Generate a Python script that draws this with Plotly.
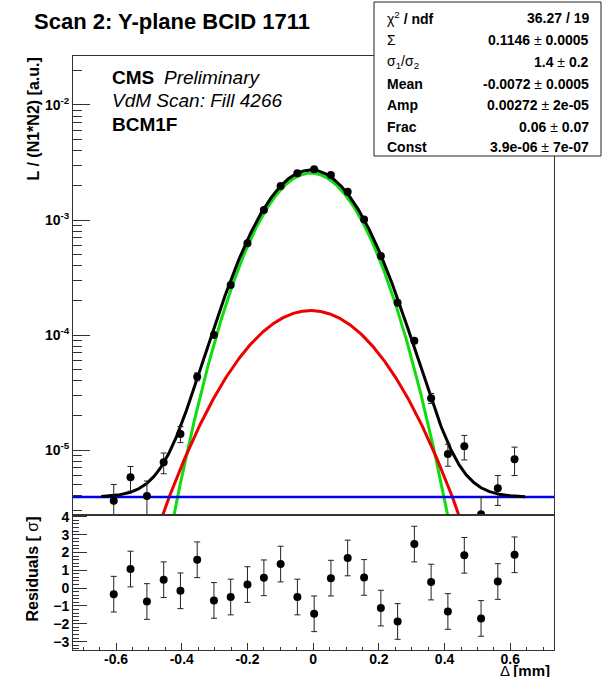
import numpy as np
import plotly.graph_objects as go

# ---------------- data ----------------
delta_mm = [-0.607, -0.556, -0.506, -0.455, -0.404, -0.353, -0.302, -0.251,
            -0.200, -0.150, -0.099, -0.048, 0.003, 0.054, 0.105, 0.155,
            0.206, 0.257, 0.308, 0.359, 0.410, 0.460, 0.511, 0.562, 0.613]
lumi = [3.62e-6, 5.79e-6, 3.98e-6, 7.82e-6, 1.38e-5, 4.34e-5, 1.00e-4, 2.72e-4,
        6.28e-4, 1.22e-3, 1.98e-3, 2.55e-3, 2.76e-3, 2.46e-3, 1.76e-3, 1.01e-3,
        4.86e-4, 1.91e-4, 8.9e-5, 2.82e-5, 9.23e-6, 1.08e-5, 2.76e-6, 4.65e-6, 8.3e-6]
lumi_err = [1.4e-6, 1.4e-6, 1.4e-6, 1.6e-6, 2.2e-6, 3.5e-6, 5e-6, 8e-6,
            1.2e-5, 1.6e-5, 1.9e-5, 2.1e-5, 2.2e-5, 2.1e-5, 1.8e-5, 1.4e-5,
            9e-6, 6e-6, 4e-6, 2.8e-6, 2.0e-6, 2.6e-6, 1.15e-6, 1.35e-6, 2.3e-6]
residuals = [-0.34, 1.07, -0.75, 0.47, -0.15, 1.59, -0.69, -0.50, 0.20, 0.58,
             1.35, -0.50, -1.44, 0.56, 1.69, 0.60, -1.12, -1.87, 2.47, 0.34,
             -1.31, 1.84, -1.70, 0.37, 1.87]
residual_err = [1.0, 1.0, 1.0, 1.0, 1.0, 1.0, 1.0, 1.0, 1.0, 1.0, 1.0, 1.0, 1.0,
                1.0, 1.0, 1.0, 1.0, 1.0, 1.0, 1.0, 1.0, 1.0, 1.0, 1.0, 1.0]

# fit parameters (stat box)
fit_capsigma = 0.1146
fit_sigma_ratio = 1.4
fit_mean = -0.0072
fit_amp = 0.00272
fit_frac = 0.06
fit_const = 3.9e-6
fit_range = (-0.645, 0.645)

stats_labels = ["χ<sup>2</sup><b> / ndf</b>", "Σ", "σ<sub>1</sub>/σ<sub>2</sub>",
                "<b>Mean</b>", "<b>Amp</b>", "<b>Frac</b>", "<b>Const</b>"]
stats_values = ["<b>36.27 / 19</b>", "<b>0.1146</b> ± <b>0.0005</b>", "<b>1.4</b> ± <b>0.2</b>",
                "<b>-0.0072</b> ± <b>0.0005</b>", "<b>0.00272</b> ± <b>2e-05</b>",
                "<b>0.06</b> ± <b>0.07</b>", "<b>3.9e-06</b> ± <b>7e-07</b>"]

x_ticks = [-0.6, -0.4, -0.2, 0, 0.2, 0.4, 0.6]
x_ticktext = ["-0.6", "-0.4", "-0.2", "0", "0.2", "0.4", "0.6"]
log_ticks = [1e-5, 1e-4, 1e-3, 1e-2]
log_ticktext = ["10<sup>-5</sup>", "10<sup>-4</sup>", "10<sup>-3</sup>", "10<sup>-2</sup>"]
res_ticks = [-3, -2, -1, 0, 1, 2, 3, 4]

# ---------------- geometry ----------------
W, H = 605, 677
ML, MR, MT, MB = 73, 51, 56, 27
PW = W - ML - MR
PH = H - MT - MB
SPLIT = 515  # pixel row of panel border
X_RANGE = [-0.731, 0.733]
Y_LOG_RANGE = [-5.565, -1.574]
RES_RANGE = [-3.47, 4.1]


def px_x(p):
    return (p - ML) / PW


def px_y(p):
    return (H - MB - p) / PH


split_dom = px_y(SPLIT)
FONT = "Liberation Sans, Arial, sans-serif"

# ---------------- fit curves ----------------
sigma_narrow = fit_capsigma * (fit_frac / fit_sigma_ratio + 1 - fit_frac)
sigma_wide = fit_sigma_ratio * sigma_narrow
xf = np.linspace(fit_range[0], fit_range[1], 800)
g_narrow = fit_amp * (1 - fit_frac) * np.exp(-(xf - fit_mean) ** 2 / (2 * sigma_narrow ** 2))
g_wide = fit_amp * fit_frac * np.exp(-(xf - fit_mean) ** 2 / (2 * sigma_wide ** 2))
g_total = g_narrow + g_wide + fit_const

fig = go.Figure()
fig.add_trace(go.Scatter(x=xf, y=g_narrow, mode="lines", line=dict(color="#10dd10", width=3),
                         xaxis="x", yaxis="y", showlegend=False, hoverinfo="skip"))
fig.add_trace(go.Scatter(x=xf, y=g_wide, mode="lines", line=dict(color="#ee0000", width=3),
                         xaxis="x", yaxis="y", showlegend=False, hoverinfo="skip"))
fig.add_trace(go.Scatter(x=X_RANGE, y=[fit_const, fit_const], mode="lines",
                         line=dict(color="#0000ee", width=2.5),
                         xaxis="x", yaxis="y", showlegend=False, hoverinfo="skip"))
fig.add_trace(go.Scatter(x=xf, y=g_total, mode="lines", line=dict(color="black", width=3),
                         xaxis="x", yaxis="y", showlegend=False, hoverinfo="skip"))
fig.add_trace(go.Scatter(x=delta_mm, y=lumi, mode="markers",
                         marker=dict(color="black", size=8),
                         error_y=dict(type="data", array=lumi_err, color="#222", thickness=1, width=3),
                         xaxis="x", yaxis="y", showlegend=False))
fig.add_trace(go.Scatter(x=delta_mm, y=residuals, mode="markers",
                         marker=dict(color="black", size=8),
                         error_y=dict(type="data", array=residual_err, color="#222", thickness=1, width=3),
                         xaxis="x2", yaxis="y2", showlegend=False))

tickfont = dict(family=FONT, size=14, color="black", weight="bold")
frame = dict(showline=True, linecolor="#333", linewidth=1, mirror=True, showgrid=False,
             zeroline=False, automargin=False)

fig.update_layout(
    width=W, height=H, margin=dict(l=ML, r=MR, t=MT, b=MB, pad=0, autoexpand=False),
    paper_bgcolor="white", plot_bgcolor="white",
    xaxis=dict(domain=[0, 1], anchor="y", range=X_RANGE, matches="x2",
               showticklabels=False, ticks="", **frame),
    yaxis=dict(domain=[split_dom, 1], anchor="x", type="log", range=Y_LOG_RANGE,
               tickvals=log_ticks, ticktext=log_ticktext, ticks="inside", ticklen=17,
               tickcolor="#333", tickfont=tickfont,
               minor=dict(tickvals=[k * 10.0 ** e for e in range(-6, -1) for k in range(2, 10)],
                          ticks="inside", ticklen=9, tickcolor="#333"),
               **frame),
    xaxis2=dict(domain=[0, 1], anchor="y2", range=X_RANGE,
                tickvals=x_ticks, ticktext=x_ticktext, ticks="inside", ticklen=7,
                tickcolor="#333", tickfont=tickfont, ticklabelstandoff=-4,
                minor=dict(dtick=0.05, tick0=0, ticks="inside", ticklen=3, tickcolor="#333"),
                **frame),
    yaxis2=dict(domain=[0, split_dom], anchor="x2", range=RES_RANGE,
                tickvals=res_ticks, ticks="inside", ticklen=14, tickcolor="#333",
                tickfont=tickfont,
                minor=dict(dtick=0.2, tick0=0, ticks="inside", ticklen=6, tickcolor="#333"),
                **frame),
)

ann = []


def add_text(text, x, y, size, xanchor="left", yanchor="middle", angle=0, bold=False, italic=False):
    f = dict(family=FONT, size=size, color="black")
    if bold:
        f["weight"] = "bold"
    if italic:
        f["style"] = "italic"
    ann.append(dict(text=text, x=px_x(x), y=px_y(y), xref="paper", yref="paper",
                    xanchor=xanchor, yanchor=yanchor, textangle=angle, showarrow=False, font=f))


add_text("Scan 2: Y-plane BCID 1711", 32, 21, 22, bold=True)
add_text("CMS", 110, 77, 19, bold=True)
add_text("Preliminary", 162, 77, 19, italic=True)
add_text("VdM Scan: Fill 4266", 110, 100, 19, italic=True)
add_text("BCM1F", 110, 125, 19, bold=True)
add_text("L / (N1*N2) [a.u.]", 33, 56, 16, xanchor="center", yanchor="top", angle=-90, bold=True)
add_text("<b>Residuals [ </b>σ<b>]</b>", 32, 515, 16, xanchor="center", yanchor="top", angle=-90)
add_text("Δ <b>[mm]</b>", 552, 670, 15, xanchor="right")

row_y = [18, 40, 62, 84, 105, 127, 147]
for lab, val, ry in zip(stats_labels, stats_values, row_y):
    add_text(lab, 385, ry, 14)
    add_text(val, 591, ry, 14, xanchor="right")

fig.update_layout(
    annotations=ann,
    shapes=[dict(type="rect", xref="paper", yref="paper",
                 x0=px_x(374), x1=px_x(601), y0=px_y(156), y1=px_y(2),
                 fillcolor="white", line=dict(color="#222", width=1), layer="above")],
)

fig.write_html("out.html",
               config={"displayModeBar": False, "staticPlot": True},
               post_script="document.body.style.margin='0';document.body.style.padding='0';")
